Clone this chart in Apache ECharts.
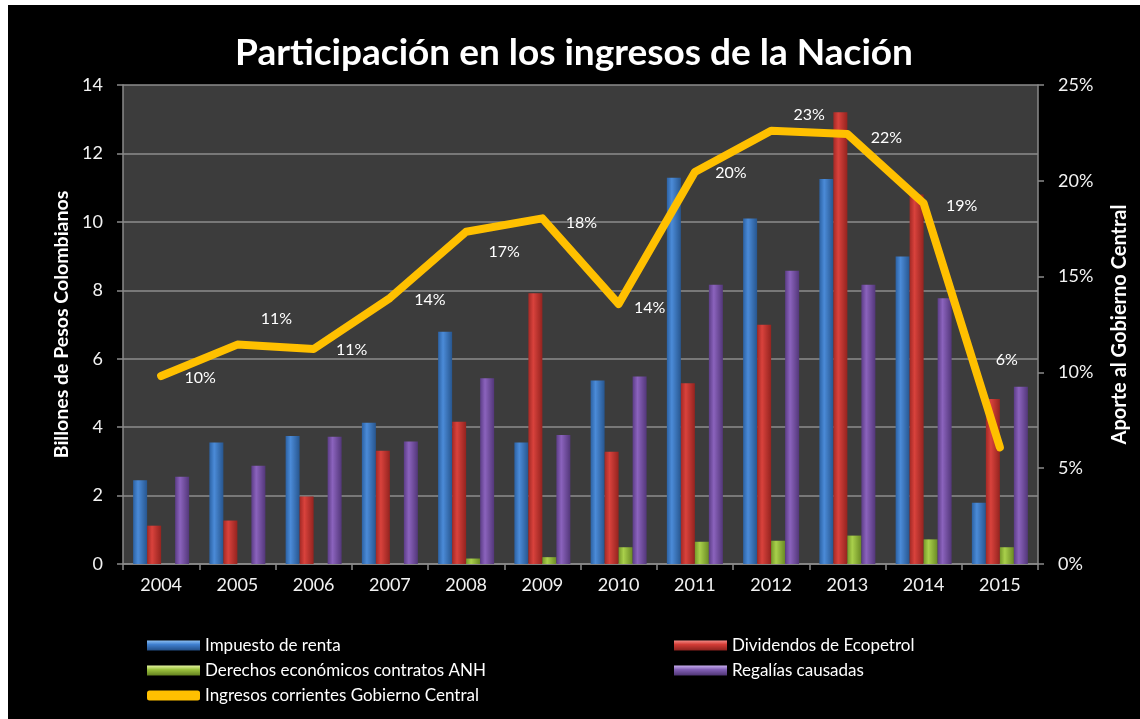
<!DOCTYPE html>
<html>
<head>
<meta charset="utf-8">
<script src="https://cdn.jsdelivr.net/npm/echarts@6/dist/echarts.min.js"></script>
<style>
  html, body { margin: 0; padding: 0; background: #ffffff; }
  #wrap { position: relative; width: 1140px; height: 719px; background: #ffffff; overflow: hidden; }
  #chart { position: absolute; left: 8px; top: 5px; width: 1132px; height: 714px; }
</style>
</head>
<body>
<div id="wrap"><div id="chart"></div></div>
<script>
const years = ['2004','2005','2006','2007','2008','2009','2010','2011','2012','2013','2014','2015'];
const impuestoRenta = [2.45, 3.55, 3.74, 4.13, 6.79, 3.55, 5.36, 11.29, 10.1, 11.25, 8.99, 1.79];
const dividendosEcopetrol = [1.12, 1.27, 1.97, 3.31, 4.16, 7.91, 3.28, 5.28, 6.99, 13.2, 10.8, 4.82];
const derechosANH = [0, 0, 0, 0, 0.16, 0.2, 0.49, 0.65, 0.68, 0.83, 0.72, 0.49];
const regalias = [2.55, 2.87, 3.72, 3.58, 5.43, 3.77, 5.48, 8.16, 8.57, 8.16, 7.77, 5.18];
const ingresosGobierno = [9.81, 11.45, 11.22, 13.88, 17.34, 18.04, 13.57, 20.46, 22.61, 22.44, 18.83, 6.09];
const leftTicks = { min: 0, max: 14, interval: 2 };
const rightTicks = { min: 0, max: 25, interval: 5 };

const names = ['Impuesto de renta', 'Dividendos de Ecopetrol', 'Derechos económicos contratos ANH', 'Regalías causadas', 'Ingresos corrientes Gobierno Central'];

function hGrad(a, b, c) {
  return new echarts.graphic.LinearGradient(0, 0, 1, 0, [
    { offset: 0, color: a }, { offset: 0.35, color: b }, { offset: 1, color: c }
  ]);
}
function vGrad(a, b, c) {
  return new echarts.graphic.LinearGradient(0, 0, 0, 1, [
    { offset: 0, color: a }, { offset: 0.4, color: b }, { offset: 1, color: c }
  ]);
}
const barStyles = [
  hGrad('#2c62a4', '#4b8bd8', '#27568f'),
  hGrad('#a32925', '#d9423c', '#94231f'),
  hGrad('#76992a', '#a9d04b', '#6a8a24'),
  hGrad('#5c3d87', '#8b63bd', '#53377a')
];
const legendStyles = [
  vGrad('#8cc0f5', '#3f7fcf', '#234f88'),
  vGrad('#f58a85', '#d23c36', '#8c221e'),
  vGrad('#e4f5a0', '#9cc23e', '#63811f'),
  vGrad('#c8aef0', '#8260b5', '#4f3574')
];
// label offsets (dx, dy) relative to each point
const labelShift = [[39,2],[39,-26],[38,1],[40,2],[38,20],[39,4],[31,4],[36,1],[38,-16],[39,4],[38,3],[7,-87]];

const FONT = 'Lato';
const barData = [impuestoRenta, dividendosEcopetrol, derechosANH, regalias];

const series = barData.map((arr, i) => ({
  name: names[i],
  type: 'bar',
  data: arr,
  yAxisIndex: 0,
  barWidth: 14,
  barGap: '0%',
  itemStyle: { color: barStyles[i] },
  z: 2
}));
series.push({
  name: names[4],
  type: 'line',
  yAxisIndex: 1,
  data: ingresosGobierno.map((v, i) => ({
    value: v,
    label: { offset: labelShift[i] }
  })),
  symbol: 'circle',
  symbolSize: 1,
  itemStyle: { color: '#ffc000' },
  lineStyle: { color: '#ffc000', width: 8, cap: 'round', join: 'round' },
  label: {
    show: true,
    position: 'inside',
    color: '#ffffff',
    fontFamily: FONT,
    fontSize: 16,
    formatter: p => Math.round(p.value) + '%'
  },
  z: 5
});

const chart = echarts.init(document.getElementById('chart'), null, { renderer: 'canvas' });
chart.setOption({
  backgroundColor: '#000000',
  animation: false,
  textStyle: { fontFamily: FONT },
  title: {
    text: 'Participación en los ingresos de la Nación',
    left: 'center',
    top: 25,
    textStyle: { color: '#ffffff', fontFamily: FONT, fontWeight: 'bold', fontSize: 37 }
  },
  grid: {
    left: 115, top: 80, right: 102, bottom: 155,
    show: true, backgroundColor: '#3c3c3c', borderWidth: 0
  },
  legend: [
    {
      orient: 'vertical', left: 139, top: 632, padding: 0,
      itemWidth: 53, itemHeight: 10, itemGap: 8,
      textStyle: { color: '#ffffff', fontFamily: FONT, fontSize: 17, lineHeight: 16 },
      data: [
        { name: names[0], icon: 'rect', itemStyle: { color: legendStyles[0] } },
        { name: names[2], icon: 'rect', itemStyle: { color: legendStyles[2] } },
        { name: names[4], icon: 'roundRect', itemStyle: { color: '#ffc000' } }
      ]
    },
    {
      orient: 'vertical', left: 666, top: 632, padding: 0,
      itemWidth: 53, itemHeight: 10, itemGap: 8,
      textStyle: { color: '#ffffff', fontFamily: FONT, fontSize: 17, lineHeight: 16 },
      data: [
        { name: names[1], icon: 'rect', itemStyle: { color: legendStyles[1] } },
        { name: names[3], icon: 'rect', itemStyle: { color: legendStyles[3] } }
      ]
    }
  ],
  xAxis: {
    type: 'category',
    data: years,
    axisLine: { lineStyle: { color: '#8a8a8a', width: 1.5 } },
    axisTick: { show: true, length: 6, lineStyle: { color: '#8a8a8a', width: 1.5 } },
    axisLabel: { color: '#f2f2f2', fontFamily: FONT, fontSize: 18, margin: 12 }
  },
  yAxis: [
    {
      type: 'value',
      min: leftTicks.min, max: leftTicks.max, interval: leftTicks.interval,
      name: 'Billones de Pesos Colombianos',
      nameLocation: 'middle', nameRotate: 90, nameGap: 51,
      nameTextStyle: { color: '#ffffff', fontFamily: FONT, fontWeight: 'bold', fontSize: 19.5 },
      axisLine: { show: true, lineStyle: { color: '#8a8a8a', width: 1.5 } },
      axisTick: { show: true, length: 6, lineStyle: { color: '#8a8a8a', width: 1.5 } },
      axisLabel: { color: '#f2f2f2', fontFamily: FONT, fontSize: 18, margin: 20 },
      splitLine: { show: true, lineStyle: { color: '#8c8c8c', width: 1.5 } }
    },
    {
      type: 'value',
      position: 'right',
      min: rightTicks.min, max: rightTicks.max, interval: rightTicks.interval,
      name: 'Aporte al Gobierno Central',
      nameLocation: 'middle', nameRotate: 90, nameGap: 72,
      nameTextStyle: { color: '#ffffff', fontFamily: FONT, fontWeight: 'bold', fontSize: 20 },
      axisLine: { show: true, lineStyle: { color: '#8a8a8a', width: 1.5 } },
      axisTick: { show: true, length: 6, lineStyle: { color: '#8a8a8a', width: 1.5 } },
      axisLabel: { color: '#f2f2f2', fontFamily: FONT, fontSize: 18, margin: 20, formatter: '{value}%' },
      splitLine: { show: false }
    }
  ],
  series: series
});
</script>
</body>
</html>
